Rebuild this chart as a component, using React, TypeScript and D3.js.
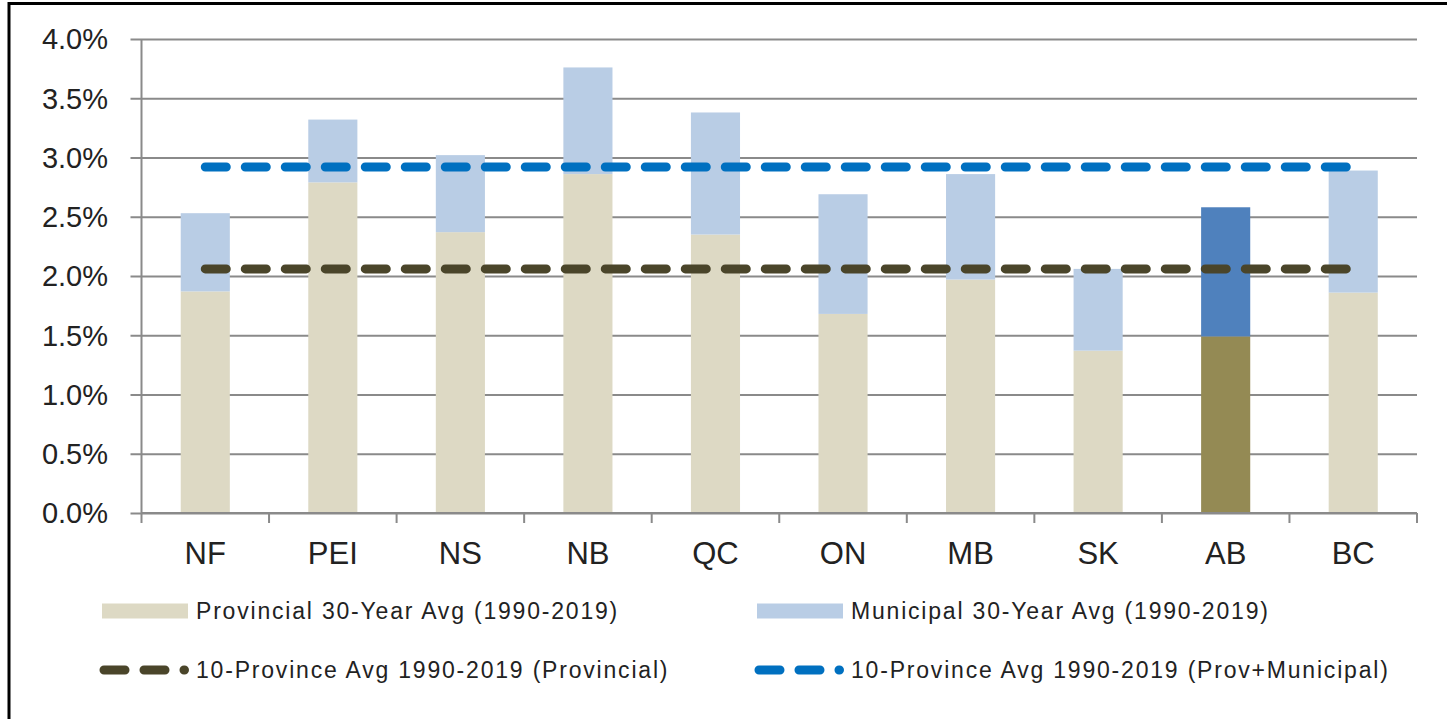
import { useEffect, useRef } from 'react'
import * as d3 from 'd3'

// ─── Data ────────────────────────────────────────────────────────────────────

const provinces = ['NF', 'PEI', 'NS', 'NB', 'QC', 'ON', 'MB', 'SK', 'AB', 'BC']
// Provincial 30-year average growth (%), 1990-2019
const provincialAvg = [1.87, 2.79, 2.37, 2.86, 2.35, 1.68, 1.97, 1.37, 1.49, 1.86]
// Municipal 30-year average growth (%), stacked on top of provincial
const municipalAvg = [0.66, 0.53, 0.65, 0.9, 1.03, 1.01, 0.89, 0.69, 1.09, 1.03]
const avgProvincial = 2.06
const avgProvMunicipal = 2.92
const yTicks = [0, 0.5, 1, 1.5, 2, 2.5, 3, 3.5, 4]
const highlight = 'AB'

const legendLabels = [
  'Provincial 30-Year Avg (1990-2019)',
  'Municipal 30-Year Avg (1990-2019)',
  '10-Province Avg 1990-2019 (Provincial)',
  '10-Province Avg 1990-2019 (Prov+Municipal)',
]

// ─── Theme ───────────────────────────────────────────────────────────────────

const colors = {
  prov: '#DDD9C4',
  mun: '#B9CDE5',
  provHi: '#948A54',
  munHi: '#4F81BD',
  lineBlue: '#0070C0',
  lineDark: '#4A452A',
  grid: '#8A8A8A',
  text: '#222222',
}
const font = '"Liberation Sans", Arial, sans-serif'

export default function App() {
  const ref = useRef<SVGSVGElement>(null)

  useEffect(() => {
    if (!ref.current) return
    const W = 1447
    const H = 719
    const svg = d3.select(ref.current)
    svg.selectAll('*').remove()
    svg.attr('width', W).attr('height', H).style('font-family', font)

    const left = 141.5
    const right = 1417
    const top = 39
    const bottom = 513

    const x = d3
      .scaleBand()
      .domain(provinces)
      .range([left, right])
      .paddingInner(0.615)
      .paddingOuter(0.3075)
    const step = (right - left) / provinces.length
    const y = d3.scaleLinear().domain([0, 4]).range([bottom, top])

    // frame (cropped: only top + left visible)
    svg.append('line').attr('x1', 8).attr('x2', W).attr('y1', 3.5).attr('y2', 3.5)
      .attr('stroke', '#000').attr('stroke-width', 3)
    svg.append('line').attr('x1', 9).attr('x2', 9).attr('y1', 2).attr('y2', H)
      .attr('stroke', '#000').attr('stroke-width', 3)

    // gridlines + y axis ticks
    svg.append('g')
      .attr('transform', `translate(${left},0)`)
      .call(d3.axisLeft(y).tickValues(yTicks).tickSize(-(right - left)).tickFormat(() => ''))
      .call((sel) => sel.select('.domain').remove())
      .call((sel) => sel.selectAll('line').attr('stroke', colors.grid).attr('stroke-width', 2)
        .attr('x1', -11))

    // y tick labels
    svg.append('g')
      .selectAll('text')
      .data(yTicks)
      .join('text')
      .attr('x', 108)
      .attr('y', (d) => y(d))
      .attr('dy', '0.36em')
      .attr('text-anchor', 'end')
      .attr('font-size', 29)
      .attr('fill', colors.text)
      .text((d) => `${d.toFixed(1)}%`)

    // bars
    const bars = svg.append('g')
    provinces.forEach((p, i) => {
      const hi = p === highlight
      const p0 = provincialAvg[i]
      const p1 = p0 + municipalAvg[i]
      bars.append('rect')
        .attr('x', x(p)!)
        .attr('width', x.bandwidth())
        .attr('y', y(p0))
        .attr('height', y(0) - y(p0))
        .attr('fill', hi ? colors.provHi : colors.prov)
      bars.append('rect')
        .attr('x', x(p)!)
        .attr('width', x.bandwidth())
        .attr('y', y(p1))
        .attr('height', y(p0) - y(p1))
        .attr('fill', hi ? colors.munHi : colors.mun)
    })

    // y axis line
    svg.append('line')
      .attr('x1', left).attr('x2', left).attr('y1', top).attr('y2', bottom)
      .attr('stroke', colors.grid).attr('stroke-width', 2)

    // x axis with category boundary ticks
    const bounds = d3.range(provinces.length + 1).map((i) => left + i * step)
    svg.append('line')
      .attr('x1', left).attr('x2', right).attr('y1', bottom).attr('y2', bottom)
      .attr('stroke', colors.grid).attr('stroke-width', 2)
    svg.append('g')
      .selectAll('line')
      .data(bounds)
      .join('line')
      .attr('x1', (d) => d).attr('x2', (d) => d)
      .attr('y1', bottom).attr('y2', bottom + 10)
      .attr('stroke', colors.grid).attr('stroke-width', 2)

    svg.append('g')
      .selectAll('text')
      .data(provinces)
      .join('text')
      .attr('x', (d) => x(d)! + x.bandwidth() / 2)
      .attr('y', 564)
      .attr('text-anchor', 'middle')
      .attr('font-size', 31)
      .attr('fill', colors.text)
      .text((d) => d)

    // average lines (centre of first to centre of last category)
    const cx0 = x(provinces[0])! + x.bandwidth() / 2
    const cx1 = x(provinces[provinces.length - 1])! + x.bandwidth() / 2
    const avgLines = [
      { v: avgProvMunicipal, c: colors.lineBlue },
      { v: avgProvincial, c: colors.lineDark },
    ]
    avgLines.forEach(({ v, c }) => {
      svg.append('line')
        .attr('x1', cx0).attr('x2', cx1).attr('y1', y(v)).attr('y2', y(v))
        .attr('stroke', c).attr('stroke-width', 9)
        .attr('stroke-linecap', 'round')
        .attr('stroke-dasharray', '21 19')
    })

    // legend
    const legend = svg.append('g')
    const colX = [100, 755]
    const rowY = [611, 670]
    const items = [
      { kind: 'rect', color: colors.prov },
      { kind: 'rect', color: colors.mun },
      { kind: 'line', color: colors.lineDark },
      { kind: 'line', color: colors.lineBlue },
    ]
    items.forEach((it, i) => {
      const lx = colX[i % 2]
      const ly = rowY[Math.floor(i / 2)]
      if (it.kind === 'rect') {
        legend.append('rect')
          .attr('x', lx + 2).attr('y', ly - 7.5).attr('width', 86).attr('height', 15)
          .attr('fill', it.color)
      } else {
        legend.append('line')
          .attr('x1', lx + 4).attr('x2', lx + 84.5).attr('y1', ly).attr('y2', ly)
          .attr('stroke', it.color).attr('stroke-width', 9)
          .attr('stroke-linecap', 'round')
          .attr('stroke-dasharray', '21 19')
      }
      legend.append('text')
        .attr('x', lx + 96)
        .attr('y', ly)
        .attr('dy', '0.35em')
        .attr('font-size', 23)
        .attr('letter-spacing', 1.8)
        .attr('fill', colors.text)
        .text(legendLabels[i])
    })
  }, [])

  return (
    <svg
      ref={ref}
      width={1447}
      height={719}
      style={{ position: 'absolute', left: 0, top: 0, background: '#fff', display: 'block' }}
    />
  )
}
